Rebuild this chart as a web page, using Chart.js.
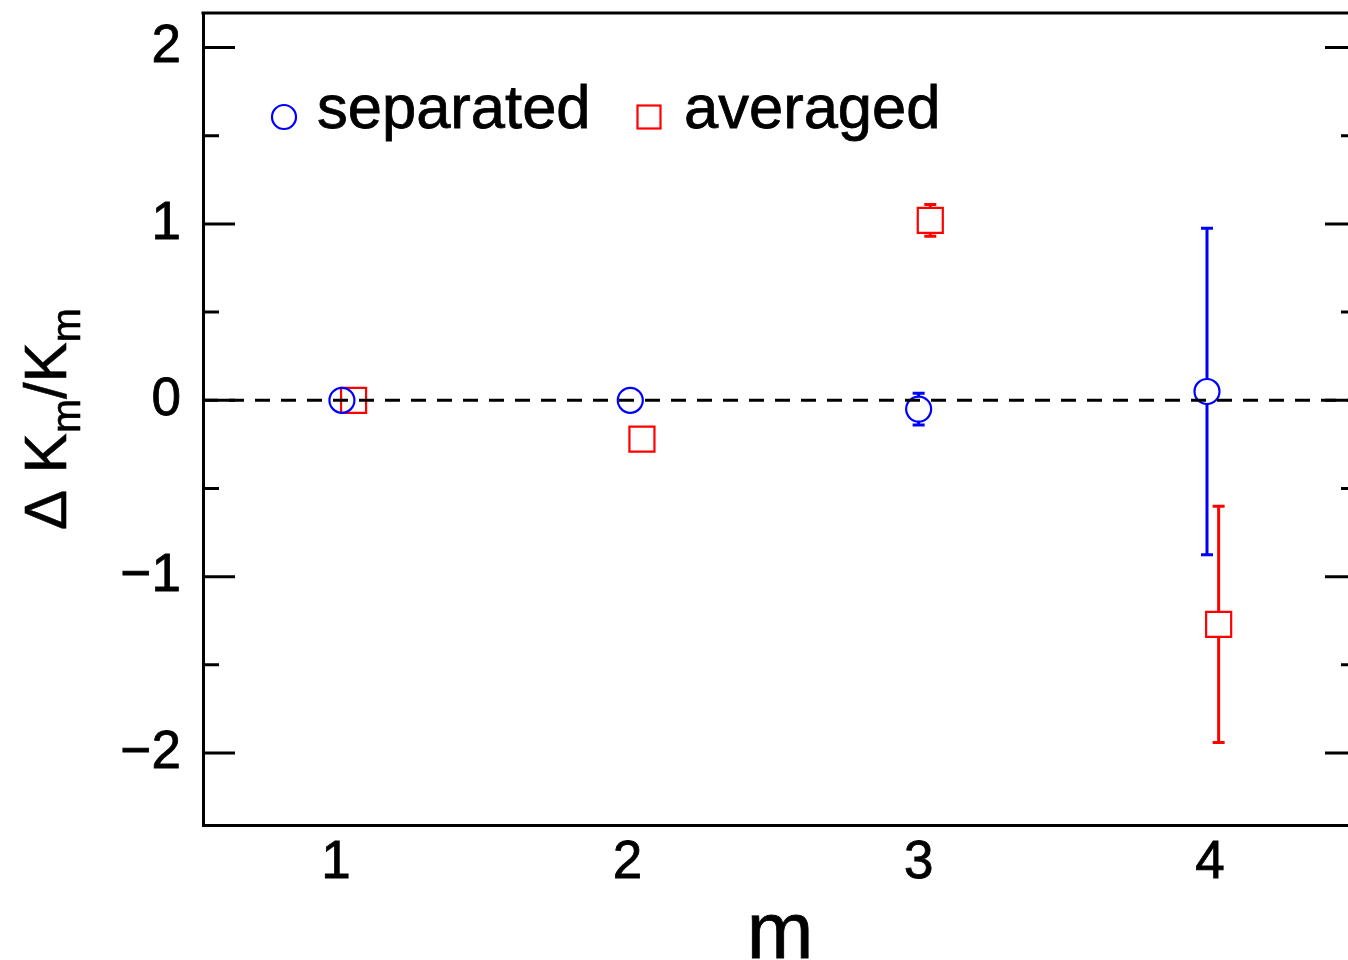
<!DOCTYPE html>
<html>
<head>
<meta charset="utf-8">
<script src="https://cdn.jsdelivr.net/npm/chart.js@4/dist/chart.umd.min.js"></script>
<style>
  html, body { margin: 0; padding: 0; background: #fff; overflow: hidden; }
  #wrap { width: 1348px; height: 960px; overflow: hidden; position: relative; }
  canvas { display: block; }
</style>
</head>
<body>
<div id="wrap"><canvas id="c" width="1400" height="960" style="width:1400px;height:960px"></canvas></div>
<script>
// ---- data ----
const mTicks        = [1, 2, 3, 4];
const yMajorTicks   = [-2, -1, 0, 1, 2];
const yMinorTicks   = [-1.5, -0.5, 0.5, 1.5];
const separatedX    = [1.02, 2.01, 3.00, 3.99];
const separatedY    = [0.00, 0.00, -0.05, 0.05];
const separatedErr  = [0, 0, 0.09, 0.925];
const averagedX     = [1.06, 2.05, 3.04, 4.03];
const averagedY     = [0.00, -0.22, 1.02, -1.27];
const averagedErr   = [0, 0, 0.09, 0.67];
const referenceY    = 0;
const xRange        = [0.543, 4.505];
const yRange        = [-2.408, 2.196];
const seriesLabels  = ['separated', 'averaged'];

const FONT = '"Liberation Sans", Arial, Helvetica, sans-serif';
const BLUE = '#0000ff';
const RED = '#ff0000';
const PLOT_TOP = 13;

function pts(xs, ys) { return xs.map((x, i) => ({ x: x, y: ys[i] })); }

const overlay = {
  id: 'overlay',
  afterLayout(chart) {
    const a = chart.chartArea;
    if (a.top !== PLOT_TOP) {
      a.top = PLOT_TOP; a.height = a.bottom - a.top;
      const y = chart.scales.y;
      y.top = PLOT_TOP; y.height = y.bottom - y.top;
      y.configure();
    }
  },
  afterDatasetsDraw(chart) {
    const ctx = chart.ctx, xs = chart.scales.x, ys = chart.scales.y;
    const drawErr = (X, Y, E, color, half) => {
      ctx.save();
      ctx.strokeStyle = color; ctx.lineWidth = 3; ctx.lineCap = 'butt';
      X.forEach((xv, i) => {
        if (!E[i]) return;
        const px = xs.getPixelForValue(xv);
        const pc = ys.getPixelForValue(Y[i]);
        const pt = ys.getPixelForValue(Y[i] + E[i]);
        const pb = ys.getPixelForValue(Y[i] - E[i]);
        ctx.beginPath();
        if (pc - half > pt) { ctx.moveTo(px, pc - half); ctx.lineTo(px, pt); }
        if (pc + half < pb) { ctx.moveTo(px, pc + half); ctx.lineTo(px, pb); }
        ctx.moveTo(px - 6, pt); ctx.lineTo(px + 6, pt);
        ctx.moveTo(px - 6, pb); ctx.lineTo(px + 6, pb);
        ctx.stroke();
      });
      ctx.restore();
    };
    drawErr(separatedX, separatedY, separatedErr, BLUE, 12.5);
    drawErr(averagedX, averagedY, averagedErr, RED, 12.5);
  },
  afterDraw(chart) {
    const ctx = chart.ctx, ys = chart.scales.y, a = chart.chartArea;
    ctx.save();
    ctx.strokeStyle = '#000'; ctx.lineWidth = 3;
    ctx.beginPath();
    ctx.moveTo(a.left - 1.5, a.top); ctx.lineTo(a.right + 1.5, a.top);
    ctx.moveTo(a.right, a.top); ctx.lineTo(a.right, a.bottom);
    ctx.stroke();
    ctx.beginPath();
    yMajorTicks.forEach(v => {
      const p = ys.getPixelForValue(v);
      ctx.moveTo(a.left, p); ctx.lineTo(a.left + 32, p);
      ctx.moveTo(a.right, p); ctx.lineTo(a.right - 32, p);
    });
    yMinorTicks.forEach(v => {
      const p = ys.getPixelForValue(v);
      ctx.moveTo(a.left, p); ctx.lineTo(a.left + 16, p);
      ctx.moveTo(a.right, p); ctx.lineTo(a.right - 16, p);
    });
    ctx.stroke();

    // legend inside the plot
    ctx.lineWidth = 2.2;
    ctx.strokeStyle = BLUE;
    ctx.beginPath(); ctx.arc(a.left + 81, a.top + 104, 12, 0, Math.PI * 2); ctx.stroke();
    ctx.strokeStyle = RED;
    ctx.strokeRect(a.left + 446 - 11.5, a.top + 104 - 11.5, 23, 23);
    ctx.fillStyle = '#000';
    ctx.strokeStyle = '#000';
    ctx.lineWidth = 0.8;
    ctx.font = '61.5px ' + FONT;
    ctx.textBaseline = 'alphabetic';
    ctx.textAlign = 'left';
    ctx.fillText(seriesLabels[0], a.left + 114, a.top + 115);
    ctx.strokeText(seriesLabels[0], a.left + 114, a.top + 115);
    ctx.fillText(seriesLabels[1], a.left + 481, a.top + 115);
    ctx.strokeText(seriesLabels[1], a.left + 481, a.top + 115);

    // x-axis title
    ctx.font = '80px ' + FONT;
    ctx.textAlign = 'center';
    ctx.lineWidth = 0.8;
    ctx.fillText('m', (a.left + a.right) / 2, 958);
    ctx.strokeText('m', (a.left + a.right) / 2, 958);

    // y-axis title with subscripts
    const big = '60px ' + FONT, small = '41px ' + FONT;
    const parts = [['\u0394 K', big, 0], ['m', small, 14], ['/K', big, 0], ['m', small, 14]];
    let total = 0;
    parts.forEach(p => { ctx.font = p[1]; p.push(ctx.measureText(p[0]).width); total += p[3]; });
    ctx.translate(66, (a.top + a.bottom) / 2);
    ctx.rotate(-Math.PI / 2);
    ctx.textAlign = 'left';
    ctx.lineWidth = 0.6;
    let x = -total / 2;
    parts.forEach(p => { ctx.font = p[1]; ctx.fillText(p[0], x, p[2]); ctx.strokeText(p[0], x, p[2]); x += p[3]; });
    ctx.restore();
  }
};

new Chart(document.getElementById('c'), {
  data: {
    datasets: [
      {
        type: 'line', label: 'reference',
        data: [{ x: xRange[0], y: referenceY }, { x: xRange[1], y: referenceY }],
        borderColor: '#000', borderWidth: 3, borderDash: [15, 11],
        pointRadius: 0, fill: false
      },
      {
        type: 'scatter', label: seriesLabels[0], data: pts(separatedX, separatedY),
        pointStyle: 'circle', pointRadius: 12.5, borderColor: BLUE, borderWidth: 2.2,
        backgroundColor: 'rgba(0,0,0,0)', pointHoverRadius: 12.5
      },
      {
        type: 'scatter', label: seriesLabels[1], data: pts(averagedX, averagedY),
        pointStyle: 'rect', pointRadius: 17.7, borderColor: RED, borderWidth: 2.2,
        backgroundColor: 'rgba(0,0,0,0)', pointHoverRadius: 17.7
      }
    ]
  },
  options: {
    responsive: false,
    animation: false,
    devicePixelRatio: 1,
    layout: { padding: { top: 13, right: 43, left: 0, bottom: 0 } },
    plugins: { legend: { display: false }, tooltip: { enabled: false } },
    scales: {
      x: {
        type: 'linear', min: xRange[0], max: xRange[1],
        grid: { display: false, drawTicks: false, tickLength: 0 },
        border: { display: true, color: '#000', width: 3 },
        afterBuildTicks: s => { s.ticks = mTicks.map(v => ({ value: v })); },
        afterFit: s => { s.height = 135; s.paddingLeft = 0; s.paddingRight = 0; },
        ticks: { font: { family: FONT, size: 53 }, color: '#000', padding: 7, maxRotation: 0,
                 textStrokeColor: '#000', textStrokeWidth: 0.8,
                 callback: v => String(v) }
      },
      y: {
        type: 'linear', min: yRange[0], max: yRange[1],
        grid: { display: false, drawTicks: false, tickLength: 0 },
        border: { display: true, color: '#000', width: 3 },
        afterBuildTicks: s => { s.ticks = yMajorTicks.map(v => ({ value: v })); },
        afterFit: s => { s.width = 203; s.paddingTop = 0; s.paddingBottom = 0; },
        ticks: { font: { family: FONT, size: 53 }, color: '#000', padding: 22,
                 textStrokeColor: '#000', textStrokeWidth: 0.8,
                 callback: v => String(v).replace('-', '\u2212') }
      }
    }
  },
  plugins: [overlay]
});
</script>
</body>
</html>
